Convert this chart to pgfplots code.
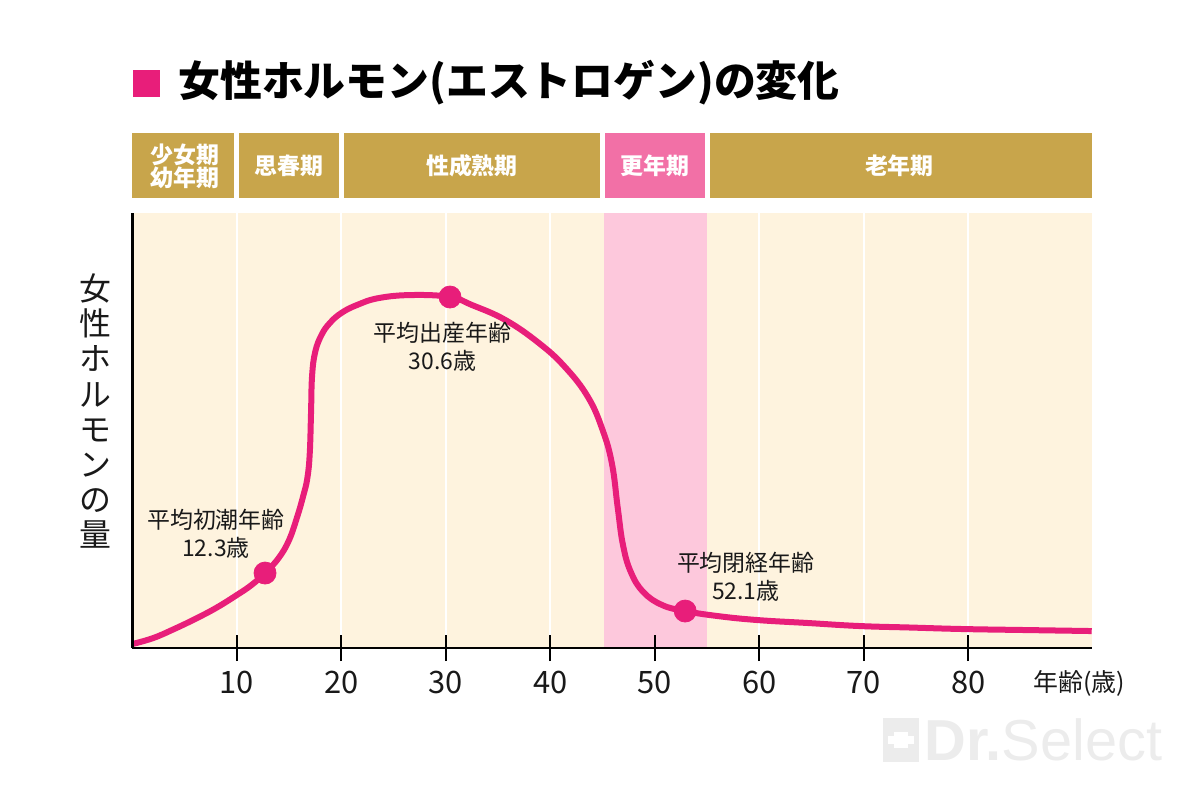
\documentclass[border=0pt]{standalone}
\usepackage{fontspec}
\setmainfont{Noto Sans CJK JP}
\newfontfamily\wmfont{Liberation Sans}
\usepackage{pgfplots}
\pgfplotsset{compat=1.18}
\definecolor{curve}{RGB}{232,30,122}
\definecolor{gold}{RGB}{200,165,75}
\definecolor{hpink}{RGB}{242,112,166}
\definecolor{band}{RGB}{253,200,220}
\definecolor{cream}{RGB}{254,243,222}
\definecolor{txt}{RGB}{25,25,25}
\definecolor{wm}{RGB}{236,236,236}
\begin{document}
\begin{tikzpicture}
\begin{axis}[
  x=5.225bp, y=0.5bp,
  xmin=0, xmax=91.8, ymin=0, ymax=435,
  axis x line=bottom, axis y line=left,
  axis line style={-, line width=1.4bp, black},
  xtick={10,20,...,80}, ytick=\empty,
  tick align=center, major tick length=13bp,
  tick style={line width=1bp, black},
  /pgf/number format/assume math mode=true,
  xticklabel style={font=\fontsize{15.5}{16}\selectfont, text=txt, yshift=-1.5bp},
  clip=false,
  axis on top,
]
% bounding box of whole picture (1200x800 px)
\path (-12.66,-152) rectangle (102.16,648);
% plot background
\fill[cream] (0,0) rectangle (91.8,435);
\fill[band] (45.1,0) rectangle (55,435);
\pgfplotsinvokeforeach{10,20,30,40,60,70,80}{
  \draw[white, line width=1bp] (#1,0) -- (#1,435);
}
% header boxes
\fill[gold] (0,450) rectangle (45,515);
\fill[hpink] (45,450) rectangle (55,515);
\fill[gold] (55,450) rectangle (91.8,515);
\pgfplotsinvokeforeach{10,20,45,55}{
  \draw[white, line width=2.5bp] (#1,449) -- (#1,516);
}
\node[white, font=\fontsize{11.5}{11.5}\selectfont\bfseries, align=center] at (5,482) {少女期\\幼年期};
\node[white, font=\fontsize{11.5}{11.5}\selectfont\bfseries] at (15,482) {思春期};
\node[white, font=\fontsize{11.5}{11.5}\selectfont\bfseries] at (32.5,482) {性成熟期};
\node[white, font=\fontsize{11.5}{11.5}\selectfont\bfseries] at (50,482) {更年期};
\node[white, font=\fontsize{11.5}{11.5}\selectfont\bfseries] at (73.4,482) {老年期};
% title
\fill[curve] (0.07,551) rectangle (2.65,578);
\node[anchor=west, inner sep=0, font=\fontsize{21}{21}\selectfont\bfseries] at (4.37,565) {女性ホルモン(エストロゲン)の変化};
% y label
\node[font=\fontsize{16}{17.6}\selectfont, align=center, text=txt] at (-3.57,237) {女\\性\\ホ\\ル\\モ\\ン\\の\\量};
% x label
\node[font=\fontsize{12.5}{13}\selectfont, text=txt] at (90.6,-35) {年齢(歳)};
% curve
\addplot[curve, line width=3bp, smooth, tension=0.7] coordinates {
(0,4)(2,10)(4,19)(6,29)(8,40)(10,53)(11.4,63)(12.7,75)(14.0,90)(15.0,108)(15.8,132)(16.35,152)(16.75,170)(16.98,195)(17.1,235)(17.2,272)(17.5,296)(18.1,313)(18.9,325)(20.0,335)(21.5,343)(23.6,350)(26.8,353)(30.4,351)(32.5,343)(35.7,328)(38.9,305)(41.4,281)(43.6,251)(45.0,218)(45.9,184)(46.45,140)(46.95,103)(47.7,76)(48.9,56)(50.7,43)(52.9,37)(56,32)(59.8,28)(64.7,25)(69.6,22)(74.5,20.5)(79.5,19)(85.5,18)(91.8,17)
};
\addplot[only marks, mark=*, mark size=5.5bp, curve, mark options={draw=curve, fill=curve}] coordinates {(12.7,75)(30.4,351)(52.9,37)};
% annotations
\node[font=\fontsize{11.5}{14}\selectfont, align=center, text=txt] at (8.0,114) {平均初潮年齢\\12.3歳};
\node[font=\fontsize{11.5}{14}\selectfont, align=center, text=txt] at (29.7,301.5) {平均出産年齢\\30.6歳};
\node[font=\fontsize{11.5}{14}\selectfont, align=center, text=txt] at (58.7,71.5) {平均閉経年齢\\52.1歳};
% watermark
\fill[wm] (71.8,-114) rectangle (75.3,-70);
\fill[white] (72.85,-100) rectangle (74.25,-84);
\fill[white] (72.3,-96) rectangle (74.8,-88);
\node[anchor=west, inner sep=0, text=wm, font=\wmfont\fontsize{29}{29}\selectfont] at (75.8,-92) {\textbf{Dr.}Select};
\end{axis}
\end{tikzpicture}
\end{document}
